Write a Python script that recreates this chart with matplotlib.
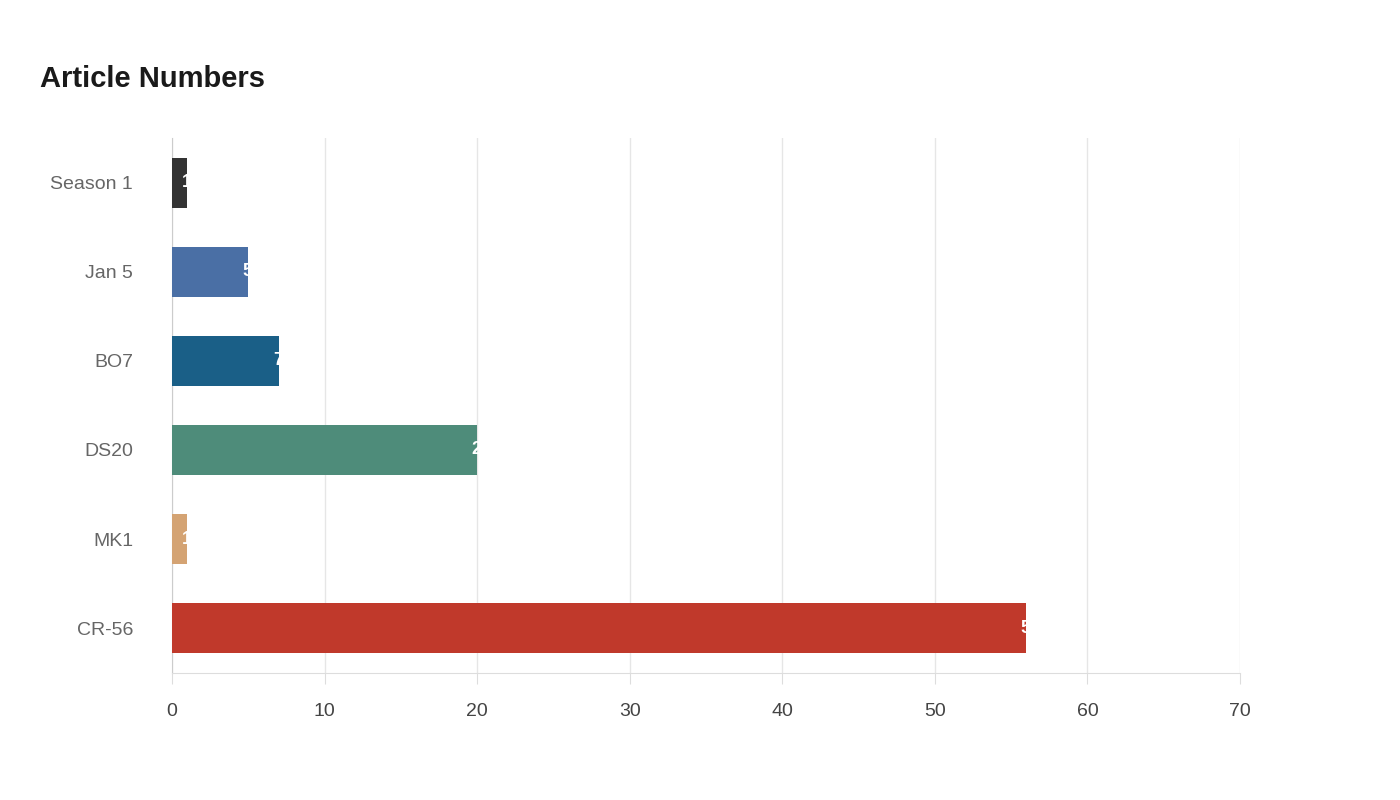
import matplotlib
matplotlib.use("Agg")
import matplotlib.pyplot as plt

categories = ["Season 1", "Jan 5", "BO7", "DS20", "MK1", "CR-56"]
values = [1, 5, 7, 20, 1, 56]
colors = ["#333333", "#4a6fa5", "#1a5f87", "#4e8c7a", "#d4a373", "#c0392b"]
xticks = [0, 10, 20, 30, 40, 50, 60, 70]

plt.rcParams['font.family'] = ['Liberation Sans', 'DejaVu Sans']
fig = plt.figure(figsize=(14, 8), dpi=100)
ax = fig.add_axes([0.1229, 0.159, 0.7628, 0.6685])
y = list(range(len(categories)))
ax.barh(y, values, height=0.56, color=colors, zorder=3)
for yi, v in zip(y, values):
    t = ax.annotate(str(v), (v, yi), xytext=(-4, 0), textcoords="offset points",
                    ha="left", va="center", color="white", fontsize=13, fontweight="bold", zorder=4)
ax.set_ylim(5.5, -0.5)
ax.set_xlim(0, 70)
ax.set_yticks(y)
ax.set_yticklabels(categories, fontsize=14, color="#666666")
ax.set_xticks(xticks)
ax.set_xticklabels([str(t) for t in xticks], fontsize=14, color="#444444")
ax.grid(axis="x", color="#e6e6e6", linewidth=1, zorder=0)
for s in ["top", "right"]:
    ax.spines[s].set_visible(False)
ax.spines["left"].set_color("#cccccc")
ax.spines["bottom"].set_color("#dddddd")
ax.tick_params(axis="y", length=0, pad=28)
ax.tick_params(axis="x", length=8, color="#dddddd", pad=14)
fig.text(40/1400, 1-79/800, "Article Numbers", fontsize=21, fontweight="bold", color="#1a1a1a", va="center")
fig.savefig("out.png")
